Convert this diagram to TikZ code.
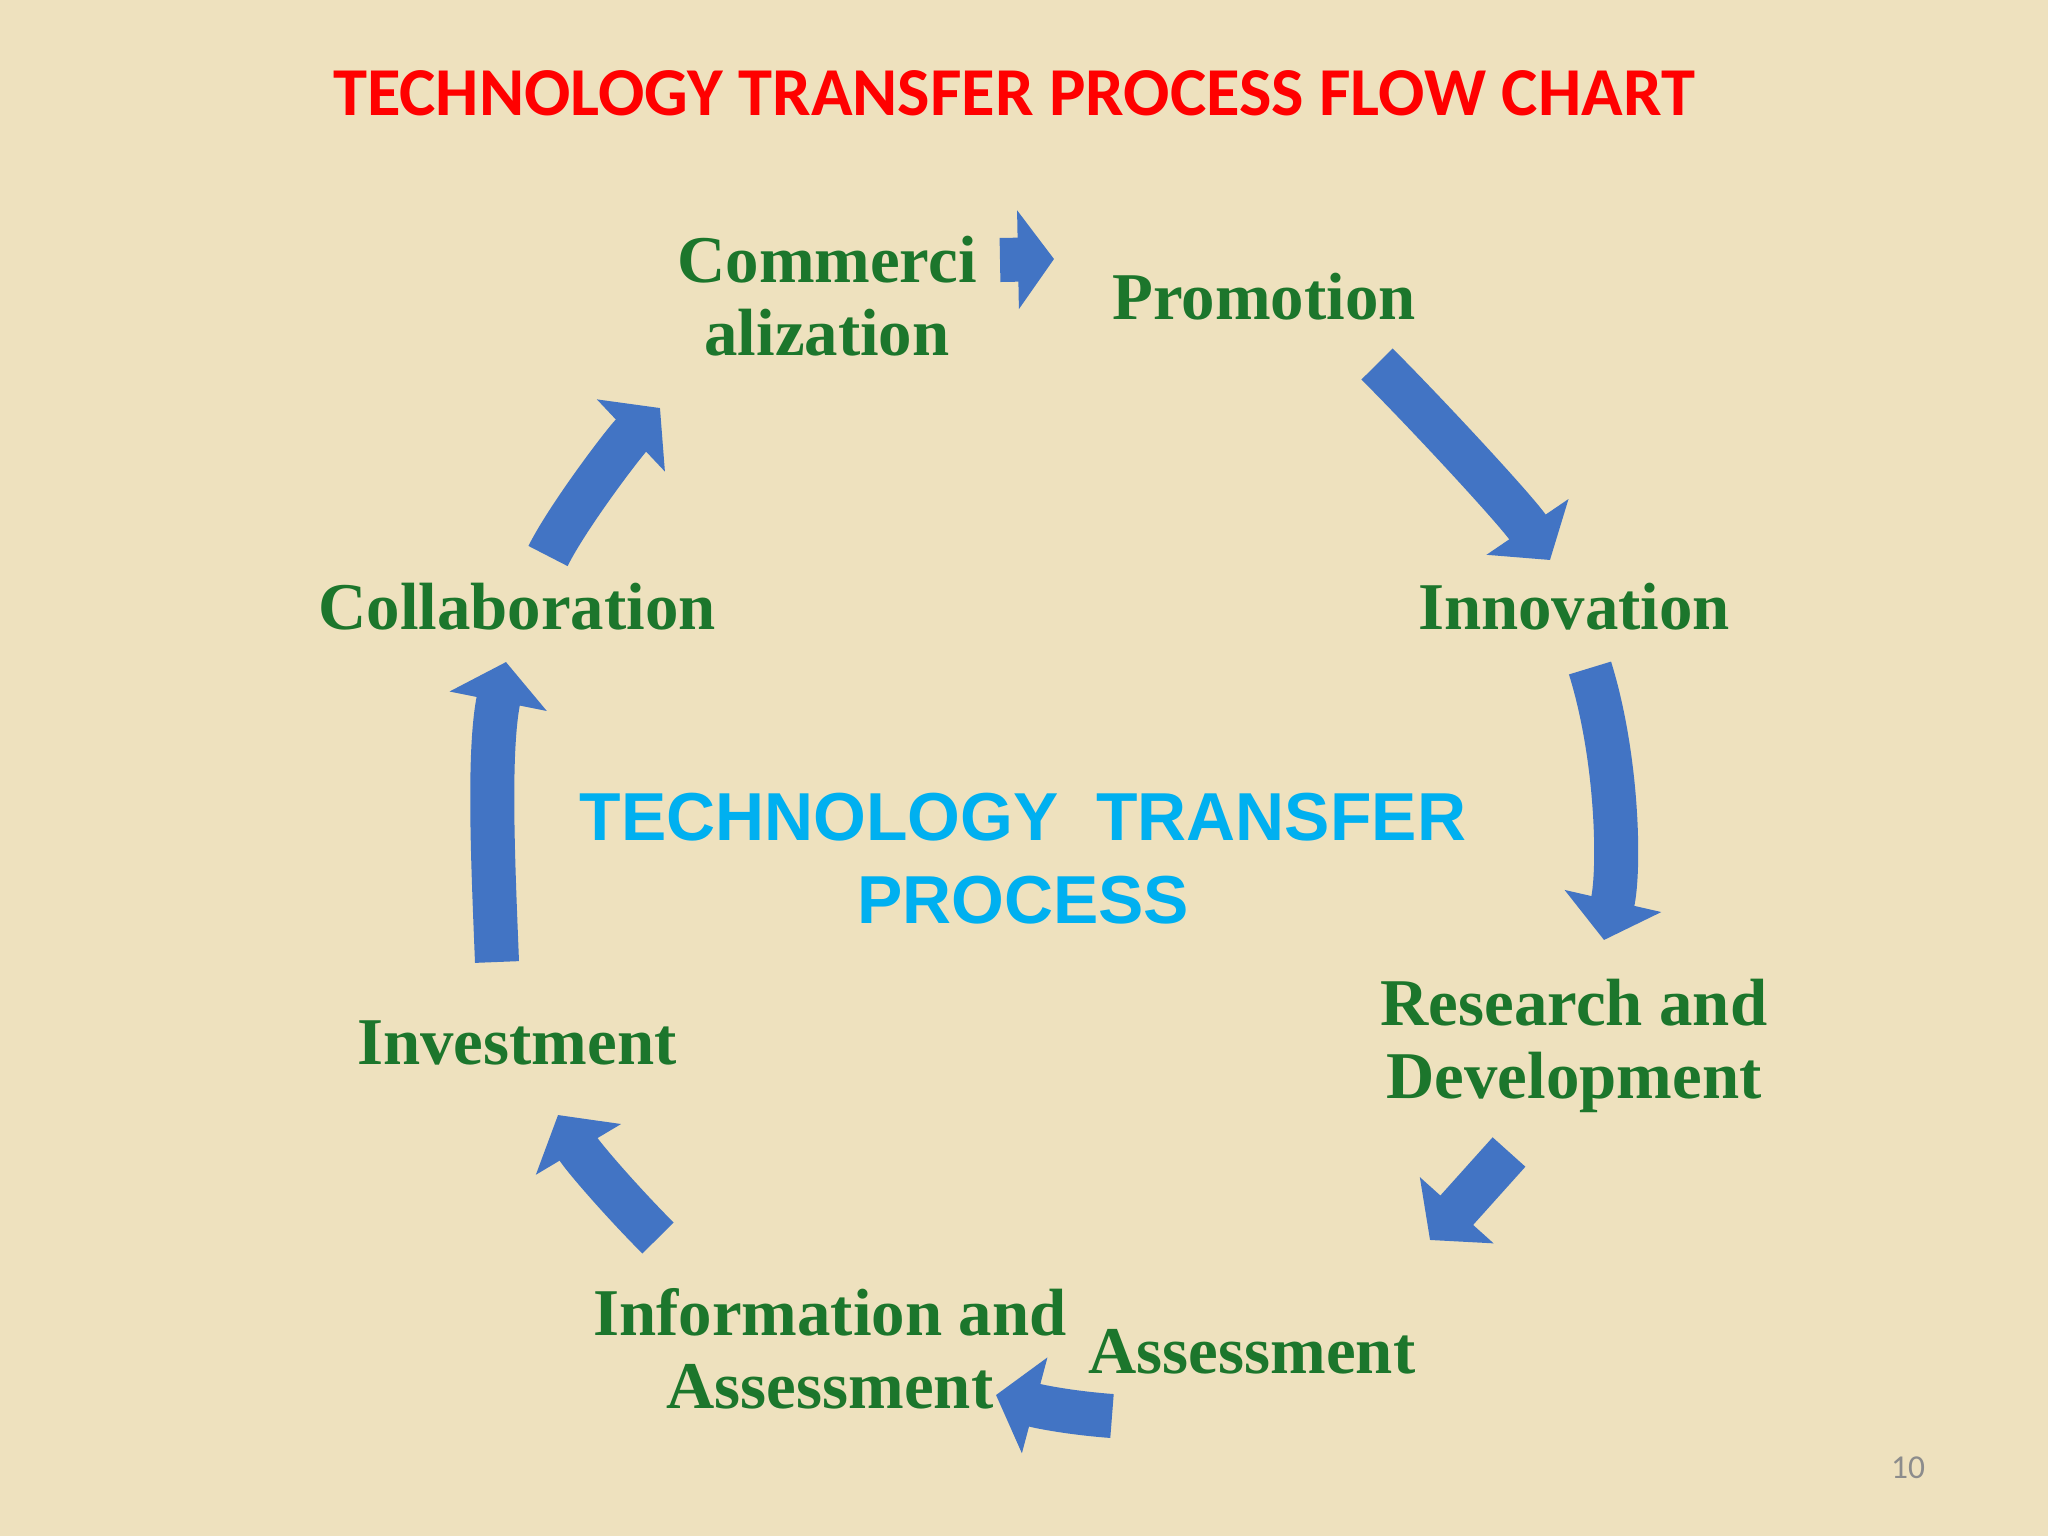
\documentclass[tikz,border=0pt]{standalone}
\usepackage{fontspec}
\setmainfont{Liberation Serif}
\newfontfamily\titlefont{Carlito}
\newfontfamily\centerfont{Liberation Sans}
\usetikzlibrary{arrows.meta, positioning}
\definecolor{parchment}{RGB}{238,225,190}
\definecolor{stagegreen}{RGB}{28,118,44}
\definecolor{flowblue}{RGB}{66,116,196}
\definecolor{centerblue}{RGB}{0,176,240}
\definecolor{pagegray}{RGB}{140,140,140}

\begin{document}
\begin{tikzpicture}[x=0.01cm, y=-0.01cm]
    \tikzstyle{stage} = [text=stagegreen, font=\fontsize{19}{20.5}\selectfont\bfseries, align=center, anchor=base, inner sep=0pt]
    \tikzstyle{flow} = [line width=0.44cm, draw=flowblue, -{Triangle[width=0.97cm, length=0.40cm]}]

    \fill[parchment] (0,0) rectangle (2048,1536);
    \useasboundingbox (0,0) rectangle (2048,1536);

    \node[text=red, font=\titlefont\fontsize{19.5}{23}\selectfont\bfseries, anchor=base] (title) at (1014,115) {TECHNOLOGY TRANSFER PROCESS FLOW CHART};

    \node[stage] (comm) at (827,355) {Commerci\\alization};
    \node[stage] (promo) at (1264,319) {Promotion};
    \node[stage] (innov) at (1574,629) {Innovation};
    \node[stage] (rnd) at (1574,1098) {Research and\\Development};
    \node[stage] (assess) at (1252,1373) {Assessment};
    \node[stage] (info) at (830,1408) {Information and\\Assessment};
    \node[stage] (invest) at (517,1064) {Investment};
    \node[stage] (collab) at (517,629) {Collaboration};

    \node[text=centerblue, font=\centerfont\fontsize{19.3}{23}\selectfont\bfseries, align=center, anchor=base] (core) at (1023,923) {TECHNOLOGY~~TRANSFER\\[0.5pt]PROCESS};

    \node[text=pagegray, font=\titlefont\fontsize{9.5}{11}\selectfont, anchor=base] (page) at (1908,1478) {10};

    \coordinate (f1s) at (1000,260);
    \coordinate (f1e) at (1054,259);
    \coordinate (f2s) at (1377,364);
    \coordinate (f2e) at (1550,560);
    \coordinate (f3s) at (1590,668);
    \coordinate (f3e) at (1604,940);
    \coordinate (f4s) at (1509,1152);
    \coordinate (f4e) at (1430,1240);
    \coordinate (f5s) at (1112,1416);
    \coordinate (f5e) at (996,1395);
    \coordinate (f6s) at (658,1238);
    \coordinate (f6e) at (558,1115);
    \coordinate (f7s) at (497,962);
    \coordinate (f7e) at (506,662);
    \coordinate (f8s) at (548,556);
    \coordinate (f8e) at (660,408);

    \draw[flow, -{Triangle[width=0.97cm, length=0.36cm]}] (f1s) -- (f1e);
    \draw[flow] (f2s) .. controls +(50,50) and +(-34,-50) .. (f2e);
    \draw[flow] (f3s) .. controls +(28,90) and +(16,-70) .. (f3e);
    \draw[flow] (f4s) -- (f4e);
    \draw[flow] (f5s) .. controls +(-40,-3) and +(45,12) .. (f5e);
    \draw[flow] (f6s) .. controls +(-35,-35) and +(25,42) .. (f6e);
    \draw[flow] (f7s) .. controls +(-4,-100) and +(-18,90) .. (f7e);
    \draw[flow] (f8s) .. controls +(20,-40) and +(-35,33) .. (f8e);
\end{tikzpicture}
\end{document}
